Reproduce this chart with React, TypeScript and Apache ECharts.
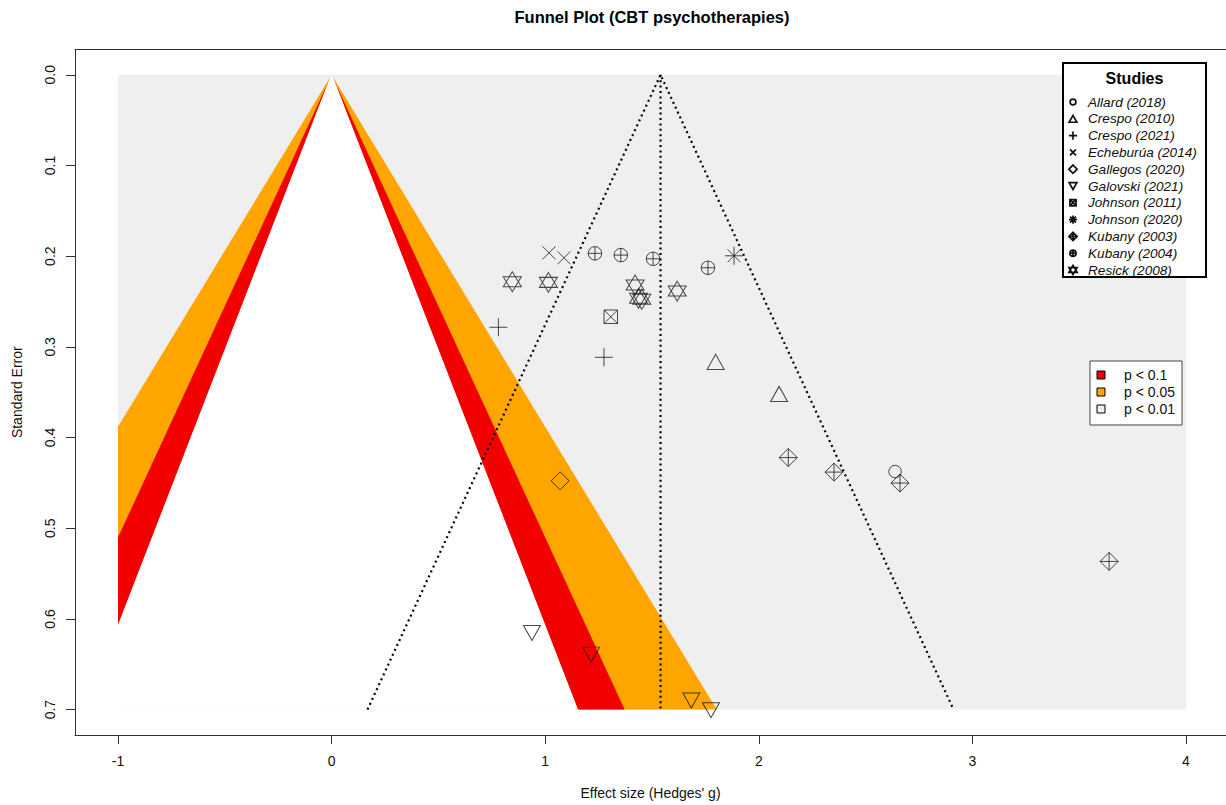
import React, { useEffect, useRef } from "react";
import * as echarts from "echarts";

// ---------------- data ----------------
const studyNames = [
  "Allard (2018)",
  "Crespo (2010)",
  "Crespo (2021)",
  "Echeburúa (2014)",
  "Gallegos (2020)",
  "Galovski (2021)",
  "Johnson (2011)",
  "Johnson (2020)",
  "Kubany (2003)",
  "Kubany (2004)",
  "Resick (2008)",
];
const studySymbols = [
  "circle",
  "triUp",
  "plus",
  "cross",
  "diamond",
  "triDown",
  "squareX",
  "asterisk",
  "diamondPlus",
  "circlePlus",
  "star",
];
// Hedges' g per effect
const effectSizes: number[][] = [
  [2.638],
  [1.798, 2.095],
  [0.781, 1.275],
  [1.018, 1.088],
  [1.07],
  [0.938, 1.215, 1.684, 1.776],
  [1.307],
  [1.884],
  [2.138, 2.352, 2.661, 3.64],
  [1.233, 1.354, 1.505, 1.762],
  [0.846, 1.015, 1.421, 1.437, 1.452, 1.618],
];
// standard error per effect
const standardErrors: number[][] = [
  [0.4375],
  [0.3166, 0.3519],
  [0.2784, 0.3115],
  [0.1963, 0.2018],
  [0.4477],
  [0.6155, 0.6394, 0.69, 0.7007],
  [0.2668],
  [0.1996],
  [0.4221, 0.4381, 0.4502, 0.5366],
  [0.1969, 0.1988, 0.2029, 0.2128],
  [0.2282, 0.2289, 0.2318, 0.2465, 0.2475, 0.2385],
];

const xTicks = [-1, 0, 1, 2, 3, 4];
const yTicks = [0, 0.1, 0.2, 0.3, 0.4, 0.5, 0.6, 0.7];
const xRange = [-1, 4];
const seMax = 0.7;
const pooledEstimate = 1.54;
const ciZ = 1.96;
// contour z-values: 99%, 95%, 90%
const contourZ = [2.576, 1.96, 1.645];
const pLegendLabels = ["p < 0.1", "p < 0.05", "p < 0.01"];

// ---------------- styles ----------------
const FONT = "'Liberation Sans', Arial, sans-serif";
const GRAY_BG = "#EFEFEF";
const RED = "#F20000";
const ORANGE = "#FFA500";
const contourFills = [ORANGE, RED, "#FFFFFF"];
const pLegendFills = [RED, ORANGE, GRAY_BG];

const symbolDims: Record<string, [number, number]> = {
  circle: [12.5, 12.5],
  triUp: [17, 15],
  plus: [18, 18],
  cross: [13, 13],
  diamond: [18, 18],
  triDown: [17, 15],
  squareX: [13.5, 13.5],
  asterisk: [18, 18],
  diamondPlus: [18, 18],
  circlePlus: [13.5, 13.5],
  star: [18, 20],
};

function symbolPath(kind: string, s: number): string {
  const [w0, h0] = symbolDims[kind];
  const w = (w0 * s) / 2;
  const h = (h0 * s) / 2;
  const n = (v: number) => v.toFixed(2);
  const circ = (r: number) =>
    `M ${n(r)} 0 A ${n(r)} ${n(r)} 0 1 1 ${n(-r)} 0 A ${n(r)} ${n(r)} 0 1 1 ${n(r)} 0 Z`;
  const plus = (a: number) => `M ${n(-a)} 0 L ${n(a)} 0 M 0 ${n(-a)} L 0 ${n(a)}`;
  const cross = (a: number) =>
    `M ${n(-a)} ${n(-a)} L ${n(a)} ${n(a)} M ${n(-a)} ${n(a)} L ${n(a)} ${n(-a)}`;
  const diamond = (a: number) =>
    `M 0 ${n(-a)} L ${n(a)} 0 L 0 ${n(a)} L ${n(-a)} 0 Z`;
  switch (kind) {
    case "circle":
      return circ(w);
    case "triUp":
      return `M ${n(-w)} ${n(h)} L ${n(w)} ${n(h)} L 0 ${n(-h)} Z`;
    case "triDown":
      return `M ${n(-w)} ${n(-h)} L ${n(w)} ${n(-h)} L 0 ${n(h)} Z`;
    case "plus":
      return plus(w);
    case "cross":
      return cross(w);
    case "diamond":
      return diamond(w);
    case "squareX":
      return `M ${n(-w)} ${n(-w)} L ${n(w)} ${n(-w)} L ${n(w)} ${n(w)} L ${n(-w)} ${n(w)} Z ` + cross(w);
    case "asterisk":
      return plus(w) + " " + cross(w * 0.71);
    case "diamondPlus":
      return diamond(w) + " " + plus(w);
    case "circlePlus":
      return circ(w) + " " + plus(w);
    case "star": {
      const b = h * 0.5;
      return (
        `M ${n(-w)} ${n(b)} L ${n(w)} ${n(b)} L 0 ${n(-h)} Z ` +
        `M ${n(-w)} ${n(-b)} L ${n(w)} ${n(-b)} L 0 ${n(h)} Z`
      );
    }
  }
  return circ(w);
}

const LEGEND_SCALE = 0.46;

export default function App() {
  const ref = useRef<HTMLDivElement>(null);

  useEffect(() => {
    if (!ref.current) return;
    studySymbols.forEach((k, i) => {
      echarts.graphic.registerShape(
        "legSym" + i,
        echarts.graphic.extendPath(symbolPath(k, LEGEND_SCALE), {})
      );
    });
    const chart = echarts.init(ref.current, null, { renderer: "svg" });

    const scatterSeries = studyNames.map((name, i) => {
      const [w, h] = symbolDims[studySymbols[i]];
      return {
        type: "scatter",
        name,
        silent: true,
        z: 5,
        symbol: "path://" + symbolPath(studySymbols[i], 1),
        symbolSize: [w, h],
        itemStyle: { color: "transparent", borderColor: "#1a1a1a", borderWidth: 1 },
        data: effectSizes[i].map((g, j) => [g, standardErrors[i][j]]),
      };
    });

    const legendElements: any[] = [
      {
        type: "rect",
        z: 100,
        shape: { x: 1063, y: 63, width: 143, height: 214 },
        style: { fill: "#fff", stroke: "#000", lineWidth: 2 },
      },
      {
        type: "text",
        z: 101,
        x: 1134.5,
        y: 78,
        style: {
          text: "Studies",
          fill: "#000",
          font: `bold 16px ${FONT}`,
          align: "center",
          verticalAlign: "middle",
        },
      },
    ];
    studyNames.forEach((name, i) => {
      const y = 102 + i * 16.8;
      legendElements.push({
        type: "legSym" + i,
        z: 101,
        x: 1073,
        y,
        style: { fill: "none", stroke: "#111", lineWidth: 1.7 },
      });
      legendElements.push({
        type: "text",
        z: 101,
        x: 1088,
        y,
        style: {
          text: name,
          fill: "#111",
          font: `italic 13.6px ${FONT}`,
          align: "left",
          verticalAlign: "middle",
        },
      });
    });
    legendElements.push({
      type: "rect",
      z: 100,
      shape: { x: 1090, y: 361, width: 92, height: 64 },
      style: { fill: "#fff", stroke: "#444", lineWidth: 1 },
    });
    pLegendLabels.forEach((lab, i) => {
      const y = 375 + i * 17;
      legendElements.push({
        type: "rect",
        z: 101,
        shape: { x: 1097, y: y - 4, width: 8, height: 8 },
        style: { fill: pLegendFills[i], stroke: "#000", lineWidth: 1 },
      });
      legendElements.push({
        type: "text",
        z: 101,
        x: 1124,
        y,
        style: {
          text: lab,
          fill: "#111",
          font: `14px ${FONT}`,
          align: "left",
          verticalAlign: "middle",
        },
      });
    });

    const axisLineStyle = { color: "#333", width: 1 };

    const option: any = {
      animation: false,
      textStyle: { fontFamily: FONT },
      grid: {
        left: 75,
        top: 49.4,
        right: 0,
        height: 686,
        show: false,
        containLabel: false,
      },
      xAxis: [
        {
          type: "value",
          position: "bottom",
          min: -1.2013,
          max: 4.1873,
          axisLine: { show: true, onZero: false, lineStyle: axisLineStyle },
          splitLine: { show: false },
          axisTick: {
            show: true,
            inside: false,
            length: 9,
            customValues: xTicks,
            lineStyle: axisLineStyle,
          },
          axisLabel: {
            customValues: xTicks,
            margin: 19,
            fontSize: 14,
            color: "#111",
            fontFamily: FONT,
          },
          name: "Effect size (Hedges' g)",
          nameLocation: "middle",
          nameGap: 51,
          nameTextStyle: { fontSize: 14, color: "#111", fontFamily: FONT },
        },
        {
          type: "value",
          position: "top",
          min: -1.2013,
          max: 4.1873,
          axisLine: { show: true, onZero: false, lineStyle: axisLineStyle },
          splitLine: { show: false },
          axisTick: { show: false },
          axisLabel: { show: false },
        },
      ],
      yAxis: {
        type: "value",
        inverse: true,
        min: -0.028,
        max: 0.728,
        axisLine: { show: true, onZero: false, lineStyle: axisLineStyle },
        splitLine: { show: false },
        axisTick: {
          show: true,
          inside: false,
          length: 9,
          customValues: yTicks,
          lineStyle: axisLineStyle,
        },
        axisLabel: {
          customValues: yTicks,
          rotate: 90,
          margin: 18,
          fontSize: 14,
          color: "#111",
          fontFamily: FONT,
          formatter: (v: number) => v.toFixed(1),
        },
        name: "Standard Error",
        nameLocation: "middle",
        nameGap: 51,
        nameTextStyle: { fontSize: 14, color: "#111", fontFamily: FONT },
      },
      graphic: [
        {
          type: "text",
          z: 100,
          x: 652,
          y: 17,
          style: {
            text: "Funnel Plot (CBT psychotherapies)",
            fill: "#000",
            font: `bold 16.5px ${FONT}`,
            align: "center",
            verticalAlign: "middle",
          },
        },
        ...legendElements,
      ],
      series: [
        {
          type: "custom",
          silent: true,
          z: 1,
          data: [[xRange[0], 0, xRange[1], seMax]],
          renderItem: (_p: any, api: any) => {
            const p0 = api.coord([api.value(0), api.value(1)]);
            const p1 = api.coord([api.value(2), api.value(3)]);
            return {
              type: "rect",
              shape: { x: p0[0], y: p0[1], width: p1[0] - p0[0], height: p1[1] - p0[1] },
              style: { fill: GRAY_BG },
            };
          },
        },
        {
          type: "custom",
          silent: true,
          z: 2,
          data: contourZ.map((z, i) => [z, i]),
          renderItem: (_p: any, api: any) => {
            const z = api.value(0);
            const idx = api.value(1);
            const pts: number[][] = [[0, 0]];
            if (z * seMax > -xRange[0]) {
              pts.push([xRange[0], -xRange[0] / z]);
              pts.push([xRange[0], seMax]);
            } else {
              pts.push([-z * seMax, seMax]);
            }
            pts.push([Math.min(z * seMax, xRange[1]), seMax]);
            const isWhite = contourFills[idx] === "#FFFFFF";
            return {
              type: "polygon",
              shape: { points: pts.map((p) => api.coord(p)) },
              style: isWhite
                ? { fill: contourFills[idx], stroke: "#FFFFFF", lineWidth: 1 }
                : { fill: contourFills[idx] },
            };
          },
        },
        {
          type: "line",
          silent: true,
          z: 3,
          symbol: "none",
          lineStyle: { color: "#000", width: 2.2, type: [2, 3.4] },
          data: [
            [pooledEstimate - ciZ * seMax, seMax],
            [pooledEstimate, 0],
            [pooledEstimate + ciZ * seMax, seMax],
          ],
        },
        {
          type: "line",
          silent: true,
          z: 3,
          symbol: "none",
          lineStyle: { color: "#000", width: 2.2, type: [2, 3.4] },
          data: [
            [pooledEstimate, 0],
            [pooledEstimate, seMax],
          ],
        },
        ...scatterSeries,
      ],
    };
    chart.setOption(option);
    return () => chart.dispose();
  }, []);

  return (
    <div
      ref={ref}
      style={{ position: "fixed", left: 0, top: 0, width: 1226, height: 805, background: "#fff" }}
    />
  );
}
